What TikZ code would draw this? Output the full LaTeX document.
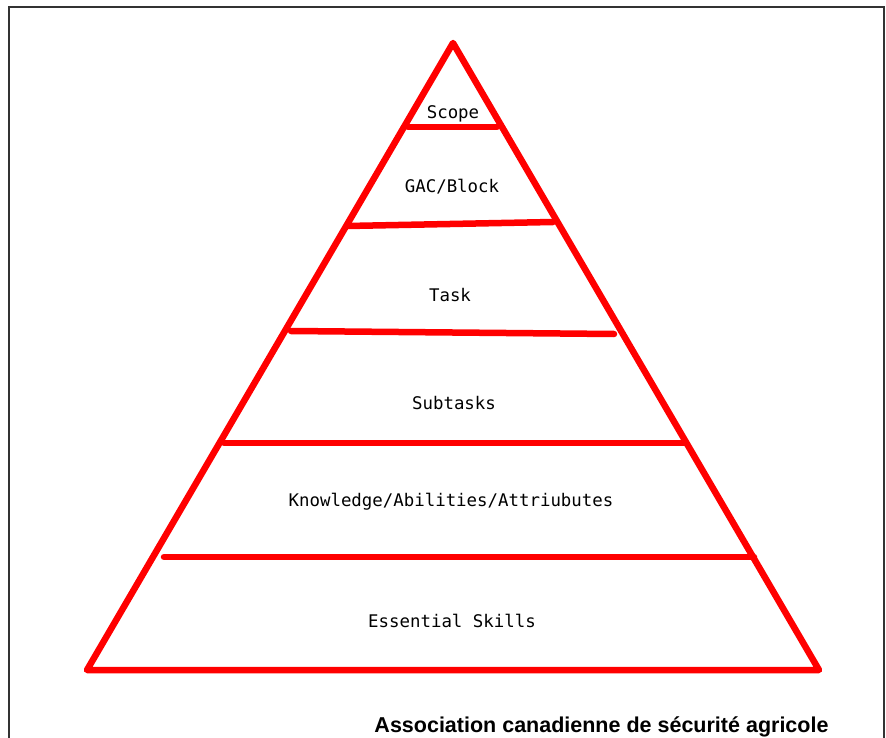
\documentclass[tikz,border=0pt]{standalone}
\usepackage{fontspec}
\newfontfamily\labfont{DejaVu Sans Mono}
\newfontfamily\titfont{Liberation Sans}
\begin{document}
\begin{tikzpicture}[x=1pt,y=-1pt,
  redline/.style={draw=red, line width=6.5pt, line join=round, line cap=round},
  lab/.style={font=\labfont\fontsize{17.4}{19}\selectfont, text=black, inner sep=0pt},
  tit/.style={font=\titfont\bfseries\fontsize{21.5}{24}\selectfont, inner sep=0pt}]
\useasboundingbox (0,0) rectangle (886,738);
\draw[line width=1.6pt, draw=black!80] (9,745) -- (9,7) -- (884,7) -- (884,745);
% pyramid
\coordinate (apex) at (453,43);
\coordinate (bl) at (87,670);
\coordinate (br) at (819,670);
\draw[redline] (apex) -- (br) -- (bl) -- cycle;
\draw[redline] (408,127) -- (497,127);
\draw[redline] (347,226) -- (553,222);
\draw[redline] (291,331) -- (614,334);
\draw[redline] (224,443) -- (686,443);
\draw[redline] (164,557) -- (754,557);
% labels
\node[lab] (scope) at (453,114) {Scope};
\node[lab] (gac) at (452,187) {GAC/Block};
\node[lab] (task) at (450,295) {Task};
\node[lab] (sub) at (454,403) {Subtasks};
\node[lab] (kaa) at (451,502) {Knowledge/Abilities/Attriubutes};
\node[lab] (ess) at (452,621) {Essential Skills};
\node[tit, anchor=base] (title) at (601.5,732) {Association canadienne de sécurité agricole};
\end{tikzpicture}
\end{document}
